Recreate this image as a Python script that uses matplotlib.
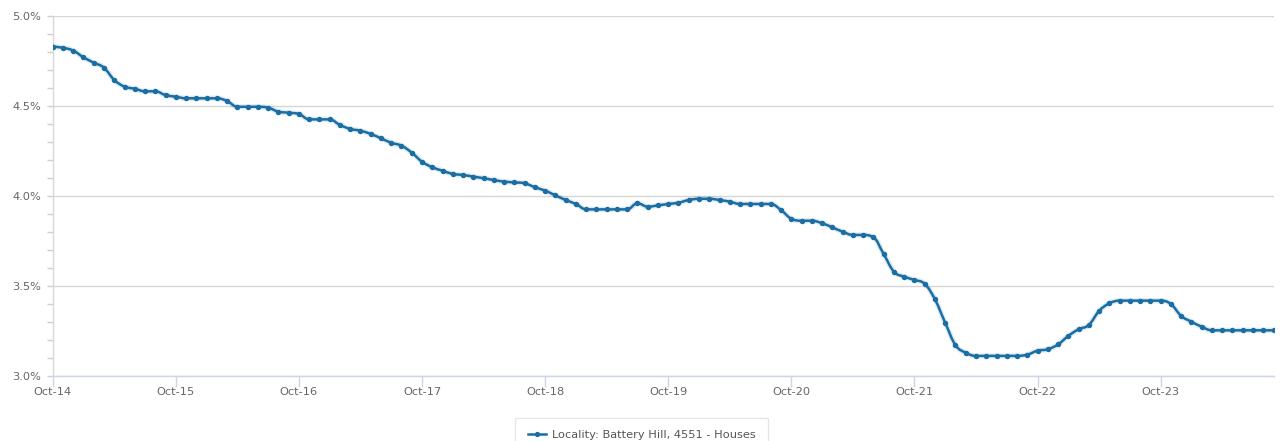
import numpy as np
import matplotlib
matplotlib.use("Agg")
import matplotlib.pyplot as plt
from matplotlib.path import Path
from matplotlib.patches import PathPatch
from matplotlib.lines import Line2D
from matplotlib.ticker import MultipleLocator, FuncFormatter

# monthly rental yield, Oct-14 .. Sep-24 (%)
yield_pct = [
    4.828, 4.822, 4.806, 4.769, 4.739, 4.711, 4.643, 4.606, 4.594, 4.580, 4.580, 4.559,
    4.550, 4.541, 4.541, 4.541, 4.541, 4.526, 4.494, 4.494, 4.494, 4.489, 4.467, 4.461,
    4.454, 4.424, 4.424, 4.424, 4.393, 4.371, 4.361, 4.343, 4.319, 4.294, 4.278, 4.239,
    4.189, 4.158, 4.139, 4.121, 4.115, 4.106, 4.097, 4.087, 4.078, 4.074, 4.069, 4.047,
    4.028, 4.002, 3.976, 3.954, 3.924, 3.924, 3.924, 3.924, 3.924, 3.958, 3.939, 3.946,
    3.954, 3.961, 3.976, 3.983, 3.983, 3.976, 3.967, 3.954, 3.954, 3.954, 3.954, 3.920,
    3.872, 3.861, 3.861, 3.847, 3.824, 3.800, 3.782, 3.782, 3.769, 3.676, 3.578, 3.550,
    3.532, 3.510, 3.424, 3.294, 3.170, 3.128, 3.110, 3.110, 3.110, 3.110, 3.110, 3.117,
    3.139, 3.147, 3.174, 3.221, 3.258, 3.282, 3.360, 3.402, 3.417, 3.417, 3.417, 3.417,
    3.417, 3.398, 3.332, 3.300, 3.272, 3.252, 3.252, 3.252, 3.252, 3.252, 3.252, 3.252,
]
tick_labels = ["Oct-14", "Oct-15", "Oct-16", "Oct-17", "Oct-18",
               "Oct-19", "Oct-20", "Oct-21", "Oct-22", "Oct-23"]
series_name = "Locality: Battery Hill, 4551 - Houses"

LINE = "#1a6ea3"
TXT = "#666666"

months = np.arange(len(yield_pct))
vals = np.array(yield_pct)


def spline_path(x, y, smoothing=1.5):
    # cubic bezier through every point, control points in the style of a chart "spline"
    n = len(x)
    denom = smoothing + 1
    lcx, lcy = x.astype(float).copy(), y.astype(float).copy()
    rcx, rcy = x.astype(float).copy(), y.astype(float).copy()
    for i in range(1, n - 1):
        lx = (smoothing * x[i] + x[i - 1]) / denom
        ly = (smoothing * y[i] + y[i - 1]) / denom
        rx = (smoothing * x[i] + x[i + 1]) / denom
        ry = (smoothing * y[i] + y[i + 1]) / denom
        if rx != lx:
            corr = (ry - ly) * (rx - x[i]) / (rx - lx) + y[i] - ry
            ly += corr
            ry += corr
        if ly > y[i - 1] and ly > y[i]:
            ly = max(y[i - 1], y[i]); ry = 2 * y[i] - ly
        elif ly < y[i - 1] and ly < y[i]:
            ly = min(y[i - 1], y[i]); ry = 2 * y[i] - ly
        if ry > y[i + 1] and ry > y[i]:
            ry = max(y[i + 1], y[i]); ly = 2 * y[i] - ry
        elif ry < y[i + 1] and ry < y[i]:
            ry = min(y[i + 1], y[i]); ly = 2 * y[i] - ry
        lcx[i], lcy[i], rcx[i], rcy[i] = lx, ly, rx, ry
    verts = [(x[0], y[0])]
    codes = [Path.MOVETO]
    for i in range(1, n):
        verts += [(rcx[i - 1], rcy[i - 1]), (lcx[i], lcy[i]), (x[i], y[i])]
        codes += [Path.CURVE4] * 3
    return Path(verts, codes)


fig = plt.figure(figsize=(12.8, 4.41), dpi=100)
ax = fig.add_axes([52.7 / 1280, 1 - 375.7 / 441, (1273.5 - 52.7) / 1280, (375.7 - 15.7) / 441])

path = spline_path(months, vals)
ax.add_patch(PathPatch(path, facecolor="none", edgecolor=LINE, lw=3.8, alpha=0.14,
                       capstyle="round", joinstyle="round", zorder=3))
ax.add_patch(PathPatch(path, facecolor="none", edgecolor=LINE, lw=1.8,
                       capstyle="round", joinstyle="round", zorder=4))
ax.plot(months, vals, ls="none", marker="o", ms=2.9, color=LINE, mec=LINE, zorder=5)

ax.set_xlim(0, len(yield_pct) - 1)
ax.set_ylim(3.0, 5.0)

ax.set_xticks(np.arange(0, 12 * len(tick_labels), 12))
ax.set_xticklabels(tick_labels)
ax.yaxis.set_major_locator(MultipleLocator(0.5))
ax.yaxis.set_minor_locator(MultipleLocator(0.1))
ax.yaxis.set_major_formatter(FuncFormatter(lambda v, _: f"{v:.1f}%"))

ax.grid(axis="y", which="major", color="#d6d6d6", lw=1)
ax.set_axisbelow(True)
for s in ("top", "right"):
    ax.spines[s].set_visible(False)
ax.spines["left"].set_color("#d8d8d8")
ax.spines["bottom"].set_color("#ccd6eb")
ax.spines["left"].set_linewidth(1)
ax.spines["bottom"].set_linewidth(1)

ax.tick_params(axis="x", length=8, width=1, color="#ccd6eb", labelcolor=TXT,
               labelsize=8.2, pad=0)
ax.tick_params(axis="y", which="both", length=4.5, width=1, color="#d0d0d0",
               labelcolor=TXT, labelsize=8.2, pad=4)

handle = Line2D([], [], color=LINE, lw=1.8, marker="o", ms=2.8)
leg = fig.legend([handle], [series_name], loc="upper center",
                 bbox_to_anchor=(641.5 / 1280, 1 - 412 / 441), frameon=True,
                 fancybox=False, edgecolor="#e0e0e0", fontsize=8.2,
                 handlelength=1.6, handletextpad=0.5, borderpad=1.1,
                 labelcolor="#555555")
leg.get_frame().set_linewidth(1)

fig.savefig("out.png", dpi=100, facecolor="white")
